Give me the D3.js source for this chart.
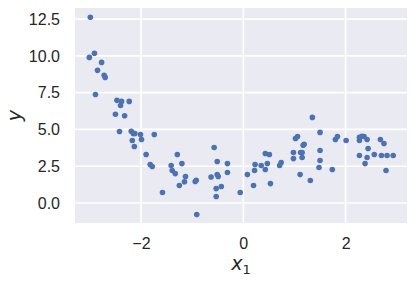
<!DOCTYPE html>
<html>
<head>
<meta charset="utf-8">
<script src="https://cdn.jsdelivr.net/npm/d3@7"></script>
<style>
  body { margin: 0; background: #fff; }
  .tick text { font-family: "Liberation Sans", Arial, sans-serif; font-size: 16px; fill: #262626; }
</style>
</head>
<body>
<div id="chart"></div>
<script>
/* scatter of y against x1, seaborn darkgrid look */

const xVals = [-2.99, -2.91, -3.01, -2.77, -2.85, -2.72, -2.70, -2.89, -2.47, -2.38,
    -2.23, -2.40, -2.50, -2.32, -2.42, -2.19, -2.15, -2.12, -2.01, -1.74,
    -2.17, -1.99, -2.13, -1.90, -1.29, -1.82, -1.78, -1.41, -1.20, -1.39,
    -1.33, -1.13, -1.15, -1.25, -1.58, -0.57, -0.51, -0.31, -0.92, -0.94,
    -0.63, -0.51, -0.49, -0.31, -0.53, -0.43, -0.53, -0.06, -0.91, 0.08,
    0.20, 0.22, 0.23, 0.35, 0.43, 0.47, 0.43, 0.51, 0.53, 0.71,
    0.74, 1.02, 1.06, 0.98, 1.12, 1.15, 0.98, 1.15, 1.17, 1.19,
    1.11, 1.31, 1.35, 1.50, 1.50, 1.50, 1.48, 1.74, 1.80, 1.84,
    2.01, 2.27, 2.27, 2.32, 2.36, 2.42, 2.44, 2.27, 2.42, 2.56,
    2.38, 2.68, 2.75, 2.70, 2.81, 2.93, 2.79];

const yVals = [12.63, 10.18, 9.90, 9.56, 9.02, 8.68, 8.54, 7.38, 6.98, 6.91,
    6.91, 6.63, 6.04, 5.93, 4.86, 4.88, 4.73, 4.73, 4.66, 4.66,
    4.25, 4.32, 3.84, 3.30, 3.30, 2.62, 2.48, 2.55, 2.68, 2.21,
    2.00, 1.80, 1.44, 1.19, 0.71, 3.77, 2.82, 2.68, 1.55, 1.46,
    1.77, 1.93, 1.80, 2.07, 0.98, 1.12, 0.44, 0.71, -0.79, 1.93,
    1.19, 2.21, 2.62, 2.55, 2.28, 2.68, 3.37, 3.30, 1.32, 2.55,
    2.75, 4.39, 4.52, 3.43, 3.43, 3.43, 3.02, 3.09, 3.93, 4.00,
    1.93, 1.53, 5.82, 4.80, 3.57, 2.89, 2.41, 2.28, 4.32, 4.52,
    4.25, 4.46, 4.25, 4.54, 4.52, 4.32, 3.71, 3.23, 3.09, 3.30,
    2.68, 4.32, 4.05, 3.23, 3.23, 3.23, 2.21];

const xTicks = [-2, 0, 2];
const yTicks = [0.0, 2.5, 5.0, 7.5, 10.0, 12.5];

const data = xVals.map((x, i) => ({ x: x, y: yVals[i] }));

const width = 415,
    height = 281,
    margin = ({ top: 8, right: 8, bottom: 58, left: 75 });

let svg = d3.select("#chart")
    .append("svg")
    .attr("width", width)
    .attr("height", height);

let x = d3.scaleLinear()
    .domain([-3.29, 3.2])
    .range([margin.left, width - margin.right]);

let y = d3.scaleLinear()
    .domain([-1.36, 13.26])
    .range([height - margin.bottom, margin.top]);

svg.append("rect")
    .attr("x", margin.left)
    .attr("y", margin.top)
    .attr("width", width - margin.left - margin.right)
    .attr("height", height - margin.top - margin.bottom)
    .attr("fill", "#eaeaf2");

// gridlines
svg.append("g")
    .selectAll("line")
    .data(xTicks)
    .join("line")
    .attr("x1", d => x(d))
    .attr("x2", d => x(d))
    .attr("y1", margin.top)
    .attr("y2", height - margin.bottom)
    .attr("stroke", "#fff")
    .attr("stroke-width", 1.7);

svg.append("g")
    .selectAll("line")
    .data(yTicks)
    .join("line")
    .attr("x1", margin.left)
    .attr("x2", width - margin.right)
    .attr("y1", d => y(d))
    .attr("y2", d => y(d))
    .attr("stroke", "#fff")
    .attr("stroke-width", 1.7);

// axes, ticks hidden
let xAxis = svg.append("g")
    .attr("transform", `translate(0,${height - margin.bottom})`)
    .call(d3.axisBottom(x).tickValues(xTicks).tickSize(0).tickPadding(15)
        .tickFormat(d => d < 0 ? "\u2212" + Math.abs(d) : d));

let yAxis = svg.append("g")
    .attr("transform", `translate(${margin.left},0)`)
    .call(d3.axisLeft(y).tickValues(yTicks).tickSize(0).tickPadding(15)
        .tickFormat(d3.format(".1f")));

xAxis.select(".domain").remove();
yAxis.select(".domain").remove();

svg.append("g")
    .selectAll("circle")
    .data(data)
    .join("circle")
    .attr("cx", d => x(d.x))
    .attr("cy", d => y(d.y))
    .attr("r", 2.8)
    .attr("fill", "#4c72b0");

// axis labels
let xLabel = svg.append("text")
    .attr("x", (margin.left + width - margin.right) / 2)
    .attr("y", 270)
    .attr("text-anchor", "middle")
    .style("font-family", "DejaVu Sans")
    .style("font-size", "19px")
    .style("fill", "#262626");
xLabel.append("tspan").style("font-style", "italic").text("x");
xLabel.append("tspan").attr("dy", 4).style("font-size", "13px").text("1");

svg.append("text")
    .attr("transform", `translate(21,${(margin.top + height - margin.bottom) / 2}) rotate(-90)`)
    .attr("text-anchor", "middle")
    .style("font-family", "DejaVu Sans")
    .style("font-style", "italic")
    .style("font-size", "19px")
    .style("fill", "#262626")
    .text("y");
</script>
</body>
</html>
